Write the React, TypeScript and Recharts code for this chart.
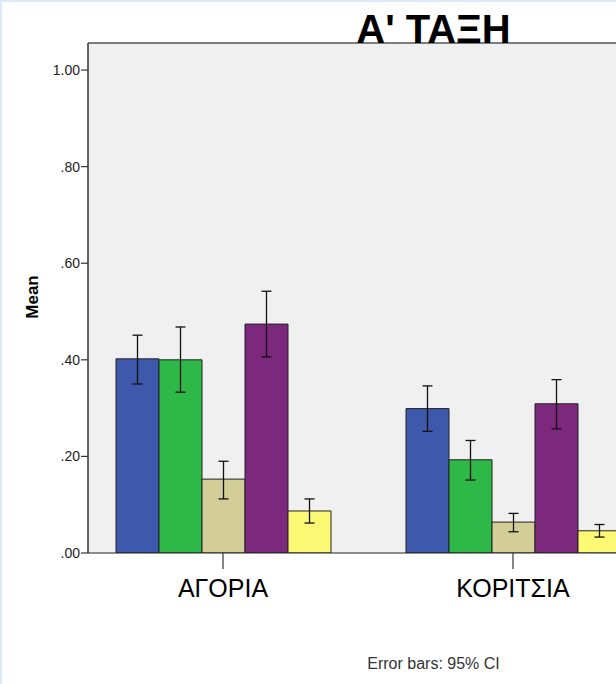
import React from 'react';
import { BarChart, Bar, XAxis, YAxis, CartesianGrid, ErrorBar, ReferenceLine } from 'recharts';

const categories = ['ΑΓΟΡΙΑ', 'ΚΟΡΙΤΣΙΑ'];
const seriesKeys = ['s1', 's2', 's3', 's4', 's5'];
const seriesColors = ['#3E58AC', '#2EB848', '#D3CE97', '#7C287D', '#FBF873'];

const meanS1 = [0.402, 0.299];
const meanS2 = [0.400, 0.193];
const meanS3 = [0.153, 0.064];
const meanS4 = [0.474, 0.309];
const meanS5 = [0.087, 0.046];

const lowS1 = [0.350, 0.252];
const lowS2 = [0.333, 0.151];
const lowS3 = [0.112, 0.044];
const lowS4 = [0.406, 0.257];
const lowS5 = [0.062, 0.033];

const highS1 = [0.451, 0.346];
const highS2 = [0.468, 0.233];
const highS3 = [0.190, 0.082];
const highS4 = [0.542, 0.359];
const highS5 = [0.112, 0.059];

const yTicks = [0, 0.2, 0.4, 0.6, 0.8, 1.0];
const YMAX = 1.056;

const means = [meanS1, meanS2, meanS3, meanS4, meanS5];
const lows = [lowS1, lowS2, lowS3, lowS4, lowS5];
const highs = [highS1, highS2, highS3, highS4, highS5];

const data = categories.map((c, i) => {
  const row: any = { name: c };
  seriesKeys.forEach((k, j) => {
    row[k] = means[j][i];
    row[k + 'err'] = [means[j][i] - lows[j][i], highs[j][i] - means[j][i]];
  });
  return row;
});

const fmt = (v: number) => (v >= 1 ? v.toFixed(2) : v.toFixed(2).replace(/^0/, ''));

export default function App() {
  const font = '"Liberation Sans", Arial, sans-serif';
  return (
    <div style={{ position: 'fixed', left: 0, top: 0, width: 616, height: 684, overflow: 'hidden', background: '#fff', fontFamily: font }}>
      <div style={{ position: 'absolute', left: 0, top: 0 }}>
        <BarChart
          width={720}
          height={684}
          data={data}
          margin={{ top: 43, right: 72, left: 28, bottom: 71 }}
          barCategoryGap={38}
          barGap={0}
        >
          <CartesianGrid fill="#F0F0F0" horizontal={false} vertical={false} />
          <ReferenceLine y={YMAX} stroke="#555" strokeWidth={1.5} />
          <XAxis
            dataKey="name"
            padding={{ left: -10, right: -10 }}
            height={60}
            tickSize={16}
            tickMargin={10}
            axisLine={{ stroke: '#222', strokeWidth: 1.2 }}
            tickLine={{ stroke: '#333', strokeWidth: 1.2 }}
            tick={{ fontSize: 25, fill: '#000', fontFamily: font }}
          />
          <YAxis
            width={60}
            domain={[0, YMAX]}
            ticks={yTicks}
            tickFormatter={fmt}
            allowDataOverflow
            tickSize={7}
            tickMargin={1}
            axisLine={{ stroke: '#333', strokeWidth: 1.5 }}
            tickLine={{ stroke: '#333', strokeWidth: 1.2 }}
            tick={{ fontSize: 14, fill: '#222', fontFamily: font }}
          />
          {seriesKeys.map((k, j) => (
            <Bar key={k} dataKey={k} fill={seriesColors[j]} stroke="#222" strokeWidth={1} isAnimationActive={false}>
              <ErrorBar dataKey={k + 'err'} width={5} stroke="#111" strokeWidth={1.3} direction="y" />
            </Bar>
          ))}
        </BarChart>
      </div>
      <svg width={616} height={684} style={{ position: 'absolute', left: 0, top: 0, pointerEvents: 'none' }}>
        <text x={433.5} y={43} textAnchor="middle" fontSize={40} fontWeight="bold" fontFamily={font} fill="#000">
          Α' ΤΑΞΗ
        </text>
        <text x={38} y={297} transform="rotate(-90, 38, 297)" textAnchor="middle" fontSize={17} fontWeight="bold" fontFamily={font} fill="#000">
          Mean
        </text>
        <text x={433.5} y={669} textAnchor="middle" fontSize={16} fontFamily={font} fill="#333">
          Error bars: 95% CI
        </text>
      </svg>
      <div style={{ position: 'absolute', left: 0, top: 0, width: 2, height: 684, background: '#DCEAF7' }} />
      <div style={{ position: 'absolute', left: 0, top: 0, width: 616, height: 2, background: '#DCEAF7' }} />
    </div>
  );
}
